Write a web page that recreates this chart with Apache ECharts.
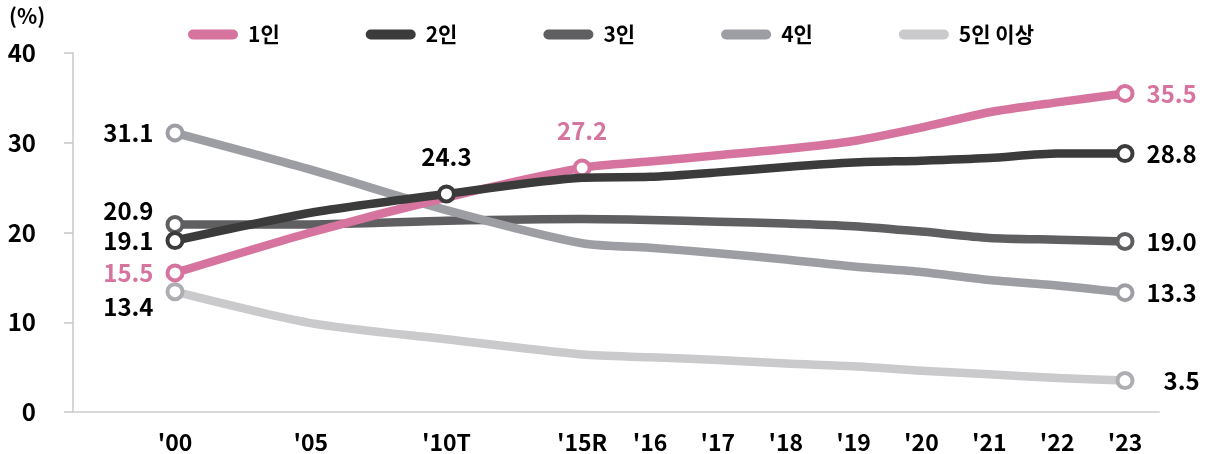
<!DOCTYPE html>
<html><head><meta charset="utf-8">
<script src="https://cdn.jsdelivr.net/npm/echarts@6/dist/echarts.min.js"></script>
<style>html,body{margin:0;padding:0;background:#fff}#c{width:1210px;height:454px}</style>
</head><body><div id="c"></div>
<script>
// ---- data ----
const categories = ["'00","'05","'10T","'15R","'16","'17","'18","'19","'20","'21","'22","'23"];
const seriesNames = ['1인','2인','3인','4인','5인 이상'];
const one   = [15.5, 20.0, 23.9, 27.2, 27.9, 28.6, 29.3, 30.2, 31.7, 33.4, 34.5, 35.5];
const two   = [19.1, 22.2, 24.3, 26.1, 26.2, 26.7, 27.3, 27.8, 28.0, 28.3, 28.8, 28.8];
const three = [20.9, 20.9, 21.3, 21.5, 21.4, 21.2, 21.0, 20.7, 20.1, 19.4, 19.2, 19.0];
const four  = [31.1, 27.0, 22.5, 18.8, 18.3, 17.7, 17.0, 16.2, 15.6, 14.7, 14.1, 13.3];
const five  = [13.4,  9.9,  8.1,  6.4,  6.1,  5.8,  5.4,  5.1,  4.6,  4.2,  3.8,  3.5];
const yTicks = [0, 10, 20, 30, 40];
const unitLabel = '(%)';

// ---- styling ----
const colors = ['#D6739E', '#3B3B3B', '#5F5F62', '#9D9EA3', '#CACACC'];
const markerBorders = ['#D6739E', '#3B3B3B', '#5F5F62', '#9D9EA3', '#AEAEB2'];
const labelColors = ['#D6739E', '#000', '#000', '#000', '#000'];
const FONT = '"Noto Sans CJK KR", "Noto Sans", sans-serif';
const last = categories.length - 1;
// which points carry a marker + label, and label placement
const labelled = [
  {0:{position:'left'}, 3:{position:'top', distance:16}, [last]:{position:'right'}},
  {0:{position:'left'}, 2:{position:'top', distance:16}, [last]:{position:'right'}},
  {0:{position:'left', offset:[0,-14]}, [last]:{position:'right'}},
  {0:{position:'left'}, [last]:{position:'right'}},
  {0:{position:'left', offset:[0,15]}, [last]:{position:'right', offset:[17,0]}}
];
const allData = [one, two, three, four, five];

// uneven spacing: the first three steps are five-year steps (twice as wide)
const slots = [];
categories.forEach((c, i) => { slots.push(c); if (i < 3) slots.push(''); });
function expand(arr, si) {
  const out = [];
  arr.forEach((v, i) => {
    const lab = labelled[si][i];
    if (lab) {
      out.push({
        value: v, symbol: 'circle', symbolSize: 15,
        itemStyle: {color: '#fff', borderColor: markerBorders[si], borderWidth: 4},
        label: Object.assign({show: true, distance: 12, color: labelColors[si],
          fontSize: 24, fontWeight: 'bold', fontFamily: FONT, formatter: (p)=>p.value.toFixed(1)}, lab)
      });
    } else out.push({value: v, symbol: 'none'});
    if (i < 3) out.push(null);
  });
  return out;
}

const series = seriesNames.map((n, si) => ({
  name: n, type: 'line', xAxisIndex: 1, yAxisIndex: 1,
  data: expand(allData[si], si), connectNulls: true, smooth: 0.25,
  showAllSymbol: true,
  lineStyle: {color: colors[si], width: 8.5, cap: 'round', join: 'round'},
  itemStyle: {color: colors[si]},
  label: {show: false}
}));
series[0].z = 12; series[1].z = 13; series[2].z = 9; series[3].z = 10; series[4].z = 8;

const chart = echarts.init(document.getElementById('c'), null, {renderer: 'canvas'});
chart.setOption({
  backgroundColor: '#fff',
  animation: false,
  title: {text: unitLabel, left: 9, top: 6, padding: 0,
    textStyle: {fontSize: 21, fontWeight: 'bold', color: '#000', fontFamily: FONT}},
  legend: {
    data: seriesNames, top: 19, left: 183, itemGap: 86,
    itemWidth: 50, itemHeight: 10,
    icon: 'path://M5,0 L45,0 A5,5 0 0 1 45,10 L5,10 A5,5 0 0 1 5,0 Z',
    textStyle: {fontSize: 21, fontWeight: 'bold', color: '#000', fontFamily: FONT, padding:[0,0,0,5]}
  },
  grid: [
    {left: 73, right: 51, top: 53, bottom: 42},
    {left: 175, right: 85, top: 53, bottom: 42}
  ],
  xAxis: [
    {gridIndex: 0, type: 'value', min: 0, max: 1, axisLine: {show: true, lineStyle: {color: '#D9D9D9', width: 2}},
     axisTick: {show: false}, axisLabel: {show: false}, splitLine: {show: false}},
    {gridIndex: 1, type: 'category', data: slots, boundaryGap: false,
     axisLine: {show: false}, axisTick: {show: false}, splitLine: {show: false},
     axisLabel: {interval: 0, margin: 19, fontSize: 23, fontWeight: 'bold', color: '#000', fontFamily: FONT}}
  ],
  yAxis: [
    {gridIndex: 0, type: 'value', min: yTicks[0], max: yTicks[yTicks.length-1], interval: 10,
     axisLine: {show: true, lineStyle: {color: '#C8C8C8', width: 1.5}},
     axisTick: {show: true, inside: false, length: 9, lineStyle: {color: '#C8C8C8', width: 1.5}},
     splitLine: {show: false},
     axisLabel: {margin: 37, fontSize: 24, fontWeight: 'bold', color: '#000', fontFamily: FONT}},
    {gridIndex: 1, type: 'value', min: yTicks[0], max: yTicks[yTicks.length-1], show: false, splitLine: {show: false}}
  ],
  series: series
});
</script></body></html>
